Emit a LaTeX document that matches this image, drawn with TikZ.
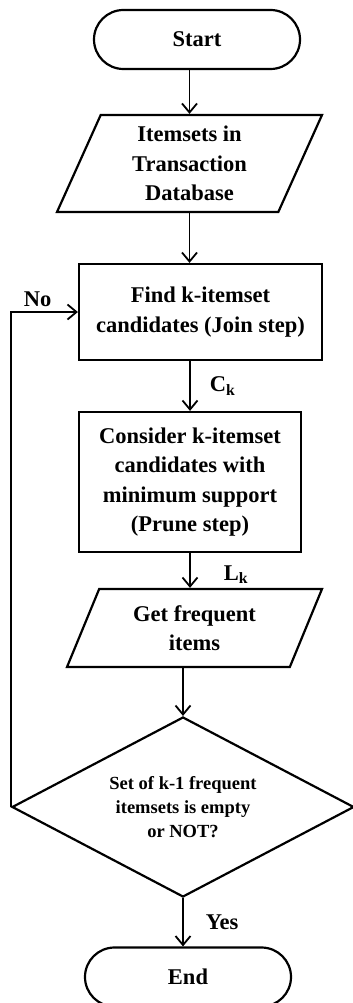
\documentclass[tikz,border=0pt]{standalone}
\usepackage{fontspec}
\setmainfont{Liberation Serif}
\usetikzlibrary{arrows,arrows.meta,shapes,positioning}

\tikzset{
  flow/.style={draw, line width=2.2pt, align=center, inner sep=2pt,
    font=\bfseries\fontsize{22.5}{29.5}\selectfont},
  term/.style={flow, rounded rectangle, minimum width=210pt, minimum height=59pt},
  io/.style={flow, trapezium, trapezium stretches body=true},
  proc/.style={flow, rectangle},
  decide/.style={flow, diamond, aspect=1.9, inner sep=0pt,
    minimum width=342pt, minimum height=180pt,
    font=\bfseries\fontsize{18.5}{24}\selectfont},
  lbl/.style={inner sep=2pt, font=\bfseries\fontsize{22.5}{24}\selectfont},
  link/.style={->, >={Straight Barb[length=9pt, width=15pt]}, line width=1.8pt}
}

\begin{document}
\begin{tikzpicture}[x=1pt, y=-1pt]
        \useasboundingbox (0,0) rectangle (353,1003);

        \node[term] (start) at (197,39.5) {Start};
        \node[io, trapezium left angle=61, trapezium right angle=119,
              minimum width=265pt, minimum height=97pt] (items) at (189.5,163.5)
              {Itemsets in\\Transaction\\Database};
        \node[proc, minimum width=243pt, minimum height=96pt] (find) at (200.5,312)
              {Find k-itemset\\candidates (Join step)};
        \node[proc, minimum width=222pt, minimum height=140pt] (prune) at (190,482)
              {Consider k-itemset\\candidates with\\minimum support\\(Prune step)};
        \node[io, trapezium left angle=57, trapezium right angle=123,
              minimum width=255pt, minimum height=78pt] (freq) at (194.5,628)
              {Get frequent\\items};
        \node[decide] (check) at (183,807) {Set of k-1 frequent\\itemsets is empty\\or NOT?};
        \node[term] (stop) at (188,977) {End};

        \draw[link] (items.north |- start.south) -- (items.north);
        \draw[link] (items.south) -- (items.south |- find.north);
        \draw[link] (prune.north |- find.south) -- node[lbl, midway, right=17pt]{C\textsubscript{k}} (prune.north);
        \draw[link] (prune.south) -- node[lbl, pos=0.62, right=31pt]{L\textsubscript{k}} (prune.south |- freq.north);
        \draw[link] (check.north |- freq.south) -- (check.north);
        \draw[link] (check.south) -- node[lbl, midway, right=20pt]{Yes} (check.south |- stop.north);
        \draw[link] (check.west) |- node[lbl, pos=0.7, above=2pt]{No} (find.west);
    \end{tikzpicture}
\end{document}
